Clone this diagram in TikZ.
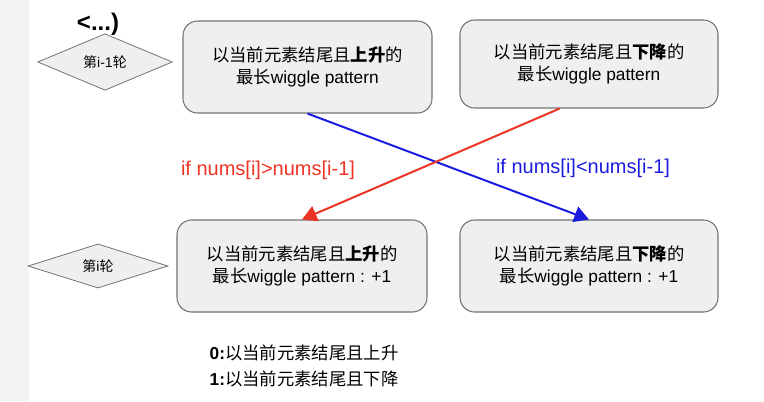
\documentclass[tikz,border=0pt]{standalone}
\usepackage{fontspec}
\setmainfont{Liberation Sans}
\newfontfamily\cjk{Noto Sans CJK SC}
\usetikzlibrary{shapes.geometric,arrows.meta}

\newcommand{\zh}[1]{{\cjk #1}}
\newcommand{\zhb}[1]{{\cjk\bfseries #1}}

\definecolor{boxfill}{RGB}{239,239,239}
\definecolor{boxline}{RGB}{115,115,115}
\definecolor{upred}{RGB}{236,52,36}
\definecolor{downblue}{RGB}{28,28,222}
\definecolor{stripgray}{RGB}{242,242,242}

\tikzset{
  statebox/.style={draw=boxline, fill=boxfill, rounded corners=11pt, line width=0.8pt,
    align=center, inner sep=0pt, font=\fontsize{13}{16.5}\selectfont},
  roundmark/.style={diamond, draw=boxline, fill=boxfill, line width=0.6pt, inner sep=0pt,
    font=\fontsize{10.5}{12}\selectfont},
  ruleline/.style={line width=1.5pt, -{Triangle[length=11pt,width=12pt]}},
}

\begin{document}
\begin{tikzpicture}[x=0.75pt,y=0.75pt,yscale=-1,xscale=1]
\useasboundingbox (0,0) rectangle (764,401);
%left strip
\fill [stripgray] (0,0) rectangle (29,401);
% Text Node
\node (dots) at (98,24) {\fontsize{18}{20}\selectfont\bfseries <...)};
%Diamonds
\node [roundmark, minimum width=101pt, minimum height=30pt] (prevround) at (105,62) {\zh{第}i-1\zh{轮}};
\node [roundmark, minimum width=105pt, minimum height=31.5pt] (curround) at (98,266) {\zh{第}i\zh{轮}};
%Boxes of round i-1
\node [statebox, minimum width=186.75pt, minimum height=69pt] (prevup) at (307.5,67)
  {\zh{以当前元素结尾且}\zhb{上升}\zh{的}\\\zh{最长}wiggle pattern};
\node [statebox, minimum width=193.5pt, minimum height=66pt] (prevdown) at (589,64)
  {\zh{以当前元素结尾且}\zhb{下降}\zh{的}\\\zh{最长}wiggle pattern};
%Boxes of round i
\node [statebox, minimum width=187.5pt, minimum height=69pt] (curup) at (302,266)
  {\zh{以当前元素结尾且}\zhb{上升}\zh{的}\\\zh{最长}wiggle pattern : +1};
\node [statebox, minimum width=193.5pt, minimum height=69pt] (curdown) at (589,266)
  {\zh{以当前元素结尾且}\zhb{下降}\zh{的}\\\zh{最长}wiggle pattern : +1};
%Transitions
\coordinate (redstart) at ([xshift=-22pt]prevdown.south);
\draw [ruleline, downblue] (prevup.south) -- (curdown.north);
\draw [ruleline, upred] (redstart) -- (curup.north);
% Text Node
\node [text=upred, font=\fontsize{15}{18}\selectfont] (uplabel) at (268,170) {if nums[i]>nums[i-1]};
\node [text=downblue, font=\fontsize{15}{18}\selectfont] (downlabel) at (583,168) {if nums[i]<nums[i-1]};
% Legend
\node [anchor=west, align=left, font=\fontsize{13}{20}\selectfont] (legend) at (205,366)
  {\textbf{0:}\zh{以当前元素结尾且上升}\\\textbf{1:}\zh{以当前元素结尾且下降}};
\end{tikzpicture}
\end{document}
